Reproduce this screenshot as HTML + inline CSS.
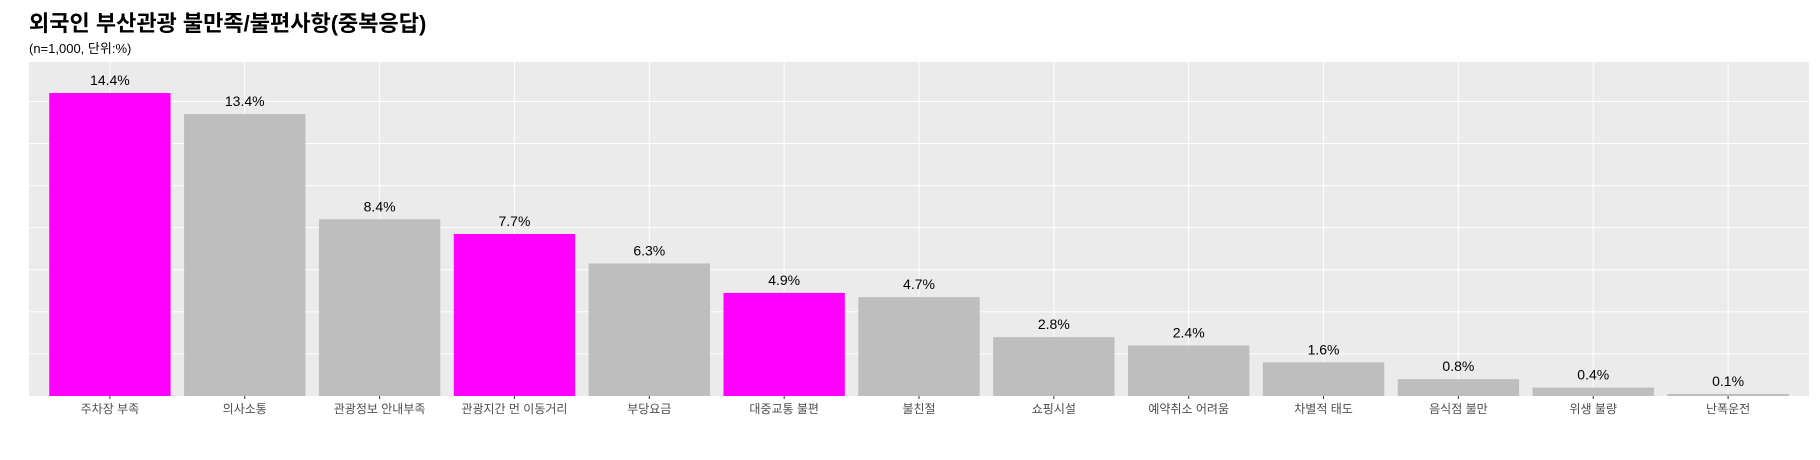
<!DOCTYPE html>
<html><head><meta charset="utf-8"><style>
html,body{margin:0;padding:0;background:#fff;width:1820px;height:460px;overflow:hidden}
svg text{font-family:"Liberation Sans","Noto Sans CJK KR",sans-serif}
</style></head><body>
<svg id="chart" width="1820" height="460" xmlns="http://www.w3.org/2000/svg">
<text x="29" y="31" font-size="22" font-weight="bold" fill="#000">외국인 부산관광 불만족/불편사항(중복응답)</text>
<text x="29" y="53" font-size="13" fill="#000">(n=1,000, 단위:%)</text>
<rect x="29" y="62" width="1780" height="334" fill="#ebebeb"/>
<g id="grid"></g><g id="bars"></g><g id="labels"></g><g id="xaxis"></g>
</svg>
<script>
const categories=["주차장 부족","의사소통","관광정보 안내부족","관광지간 먼 이동거리","부당요금","대중교통 불편","불친절","쇼핑시설","예약취소 어려움","차별적 태도","음식점 불만","위생 불량","난폭운전"];
const values=[14.4,13.4,8.4,7.7,6.3,4.9,4.7,2.8,2.4,1.6,0.8,0.4,0.1];
const highlighted=[true,false,false,true,false,true,false,false,false,false,false,false,false];
const yTicks=[0,2,4,6,8,10,12,14];
const NS="http://www.w3.org/2000/svg";
const pL=29,pR=1809,pT=62,pB=396;
const unit=(pR-pL)/(categories.length+0.2);
function cx(i){return pL+unit*(0.6+i);}
function y(v){return pB-v*21.04;}
function mk(tag,attrs,parent){const e=document.createElementNS(NS,tag);for(const k in attrs)e.setAttribute(k,attrs[k]);parent.appendChild(e);return e;}
const grid=document.getElementById('grid'),bars=document.getElementById('bars'),labels=document.getElementById('labels'),xa=document.getElementById('xaxis');
yTicks.forEach(t=>{if(t===0)return;const l=mk('line',{x1:pL,x2:pR,y1:y(t),y2:y(t),stroke:'#fff','stroke-width':1},grid);

});
categories.forEach((c,i)=>{const C=cx(i);
const g=mk('line',{x1:C,x2:C,y1:pT,y2:pB,stroke:'#fff','stroke-width':1},grid);


const r=mk('rect',{x:C-unit*0.45,y:y(values[i]),width:unit*0.9,height:pB-y(values[i]),fill:highlighted[i]?'#ff00ff':'#bebebe'},bars);


const t=mk('text',{x:C,y:y(values[i])-8,'text-anchor':'middle','font-size':14,fill:'#000'},labels);t.textContent=values[i].toFixed(1)+'%';


const tk=mk('line',{x1:C,x2:C,y1:pB,y2:pB+3,stroke:'#333','stroke-width':1},xa);


const lb=mk('text',{x:C,y:pB+17,'text-anchor':'middle','font-size':12,fill:'#4d4d4d'},xa);lb.textContent=c;


});
</script>
</body></html>
